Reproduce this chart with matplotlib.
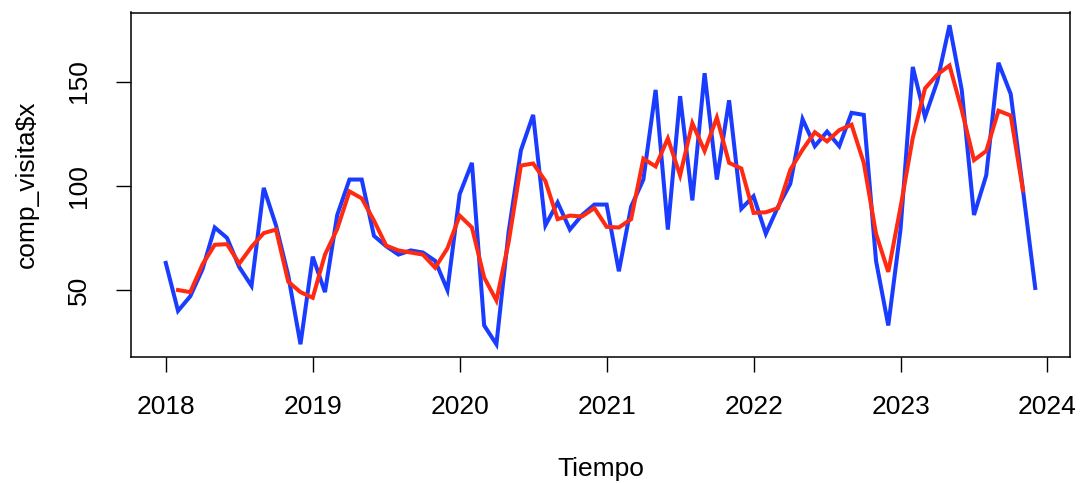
import numpy as np
import pandas as pd
import matplotlib
matplotlib.use('Agg')
import matplotlib.pyplot as plt

# visitas mensuales, ene-2018 a dic-2023
visitas = [63, 40, 47, 60, 80, 75, 61, 52, 99, 81, 57, 24,
           66, 49, 86, 103, 103, 76, 71, 67, 69, 68, 64, 50,
           96, 111, 33, 24, 78, 117, 134, 81, 92, 79, 86, 91,
           91, 59, 90, 103, 146, 79, 143, 93, 154, 103, 141, 89,
           95, 77, 90, 101, 132, 119, 126, 119, 135, 134, 64, 33,
           79, 157, 133, 150, 177, 146, 86, 105, 159, 144, 98, 51]

# media movil centrada de orden 3 (sin valor en los extremos)
media_movil = [np.nan, 50.0, 49.0, 62.3, 71.7, 72.0, 62.7, 70.7, 77.3, 79.0, 54.0, 49.0,
               46.3, 67.0, 79.3, 97.3, 94.0, 83.3, 71.3, 69.0, 68.0, 67.0, 60.7, 70.0,
               85.7, 80.0, 56.0, 45.0, 73.0, 109.7, 110.7, 102.3, 84.0, 85.7, 85.3, 89.3,
               80.3, 80.0, 84.0, 113.0, 109.3, 122.7, 105.0, 130.0, 116.7, 132.7, 111.0, 108.3,
               87.0, 87.3, 89.3, 107.7, 117.3, 125.7, 121.3, 126.7, 129.3, 111.0, 77.0, 58.7,
               89.7, 123.0, 146.7, 153.3, 157.7, 136.3, 112.3, 116.7, 136.0, 133.7, 97.7, np.nan]

anio_inicio = 2018
anios = [2018, 2019, 2020, 2021, 2022, 2023, 2024]

tiempo = anio_inicio + np.arange(len(visitas)) / 12.0
serie = pd.Series(visitas, index=tiempo)
suav = pd.Series(media_movil, index=tiempo)

plt.rcParams['font.family'] = ['Liberation Sans', 'DejaVu Sans']
plt.rcParams['font.size'] = 19

fig = plt.figure(figsize=(10.84, 4.83), dpi=100)
ax = fig.add_axes([131 / 1084, 1 - 357 / 483, (1070 - 131) / 1084, (357 - 12.5) / 483])

ax.plot(serie.index, serie.values, color='#1a3cff', lw=2.9, solid_joinstyle='miter')
ax.plot(suav.index, suav.values, color='#ff2a12', lw=2.9, solid_joinstyle='miter')

ax.margins(x=0.04, y=0.04)
ax.set_xticks(anios)
ax.set_xticklabels([str(a) for a in anios])
ax.set_yticks([50, 100, 150])
ax.set_yticklabels(['50', '100', '150'])

for s in ax.spines.values():
    s.set_linewidth(1.1)
    s.set_color('black')

ax.tick_params(axis='both', length=11, width=1.0, pad=16, labelsize=19, colors='black')
ax.tick_params(axis='y', labelrotation=90, pad=18)
for lbl in ax.get_yticklabels():
    lbl.set_va('center')

ax.set_xlabel('Tiempo', fontsize=19, labelpad=28)
ax.set_ylabel('comp_visita$x', fontsize=19, labelpad=20)

fig.savefig('out.png', dpi=100)
